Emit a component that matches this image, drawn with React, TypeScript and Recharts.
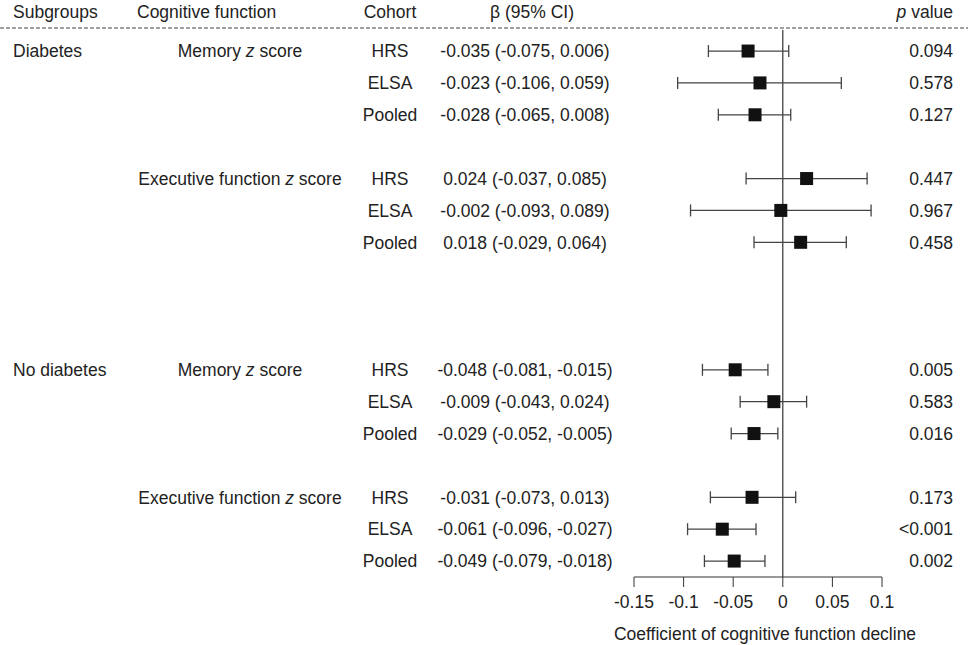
import React from 'react';
import { ScatterChart, Scatter, XAxis, YAxis, ErrorBar, ReferenceLine, Customized, Label } from 'recharts';

// rows in the plot (blank slots between groups)
const rowPos = [0, 1, 2, 4, 5, 6, 10, 11, 12, 14, 15, 16];
const subgroups = ['Diabetes', '', '', '', '', '', 'No diabetes', '', '', '', '', ''];
const cogFunction = ['Memory', '', '', 'Executive function', '', '', 'Memory', '', '', 'Executive function', '', ''];
const cohorts = ['HRS', 'ELSA', 'Pooled', 'HRS', 'ELSA', 'Pooled', 'HRS', 'ELSA', 'Pooled', 'HRS', 'ELSA', 'Pooled'];
const beta = [-0.035, -0.023, -0.028, 0.024, -0.002, 0.018, -0.048, -0.009, -0.029, -0.031, -0.061, -0.049];
const lower = [-0.075, -0.106, -0.065, -0.037, -0.093, -0.029, -0.081, -0.043, -0.052, -0.073, -0.096, -0.079];
const upper = [0.006, 0.059, 0.008, 0.085, 0.089, 0.064, -0.015, 0.024, -0.005, 0.013, -0.027, -0.018];
const pValues = ['0.094', '0.578', '0.127', '0.447', '0.967', '0.458', '0.005', '0.583', '0.016', '0.173', '<0.001', '0.002'];
const xTicks = [-0.15, -0.1, -0.05, 0, 0.05, 0.1];

const FONT = '"Liberation Sans", Arial, Helvetica, sans-serif';
const TEXT = '#222';
const FS = 17.5;

const data = rowPos.map((row, i) => ({
  row,
  beta: beta[i],
  err: [beta[i] - lower[i], upper[i] - beta[i]],
  subgroup: subgroups[i],
  cog: cogFunction[i],
  cohort: cohorts[i],
  ci: `${beta[i].toFixed(3)} (${lower[i].toFixed(3)}, ${upper[i].toFixed(3)})`,
  p: pValues[i],
}));

function RowTick(props: any) {
  const { y, payload } = props;
  const d = data.find((r) => r.row === payload.value);
  if (!d) return null;
  const common = { y, dy: '0.36em', fontSize: FS, fontFamily: FONT, fill: TEXT };
  return (
    <g>
      {d.subgroup && <text {...common} x={13} textAnchor="start">{d.subgroup}</text>}
      {d.cog && (
        <text {...common} x={240} textAnchor="middle">
          {d.cog} <tspan fontStyle="italic">z</tspan> score
        </text>
      )}
      <text {...common} x={390} textAnchor="middle">{d.cohort}</text>
      <text {...common} x={525} textAnchor="middle">{d.ci}</text>
      <text {...common} x={953} textAnchor="end">{d.p}</text>
    </g>
  );
}

function Header() {
  const common = { y: 18, fontSize: FS, fontFamily: FONT, fill: TEXT };
  return (
    <g>
      <text {...common} x={13}>Subgroups</text>
      <text {...common} x={137}>Cognitive function</text>
      <text {...common} x={390} textAnchor="middle">Cohort</text>
      <text {...common} x={490}>β (95% CI)</text>
      <text {...common} x={953} textAnchor="end">
        <tspan fontStyle="italic">p</tspan> value
      </text>
      <line x1={0} x2={968} y1={28} y2={28} stroke="#444" strokeWidth={1} strokeDasharray="4 2" />
    </g>
  );
}

const Square = (p: any) => <rect x={p.cx - 6.5} y={p.cy - 6.5} width={13} height={13} fill="#111" />;

export default function App() {
  return (
    <div style={{ width: 968, height: 645, background: '#fff' }}>
      <style>{'body{margin:0}'}</style>
      <ScatterChart width={968} height={645} margin={{ top: 30, right: 86, bottom: 0, left: 0 }}>
        <XAxis
          type="number"
          dataKey="beta"
          domain={[-0.15, 0.1]}
          ticks={xTicks}
          interval={0}
          tickFormatter={(v) => String(v)}
          tickSize={10}
          tickMargin={9}
          height={68}
          axisLine={{ stroke: '#333' }}
          tickLine={{ stroke: '#333' }}
          tick={{ fontSize: FS, fontFamily: FONT, fill: TEXT }}
        >
          <Label
            value="Coefficient of cognitive function decline"
            position="insideBottom"
            offset={5}
            dx={7}
            style={{ fontSize: FS, fontFamily: FONT, fill: TEXT }}
          />
        </XAxis>
        <YAxis
          type="number"
          dataKey="row"
          domain={[-0.66, 16.5]}
          reversed
          ticks={rowPos}
          interval={0}
          width={634}
          axisLine={false}
          tickLine={false}
          tick={<RowTick />}
        />
        <ReferenceLine x={0} stroke="#333" strokeWidth={1.2} ifOverflow="extendDomain" />
        <Scatter data={data} shape={Square} isAnimationActive={false}>
          <ErrorBar dataKey="err" direction="x" width={6} stroke="#444" strokeWidth={1.3} isAnimationActive={false} />
        </Scatter>
        <Customized component={<Header />} />
      </ScatterChart>
    </div>
  );
}
